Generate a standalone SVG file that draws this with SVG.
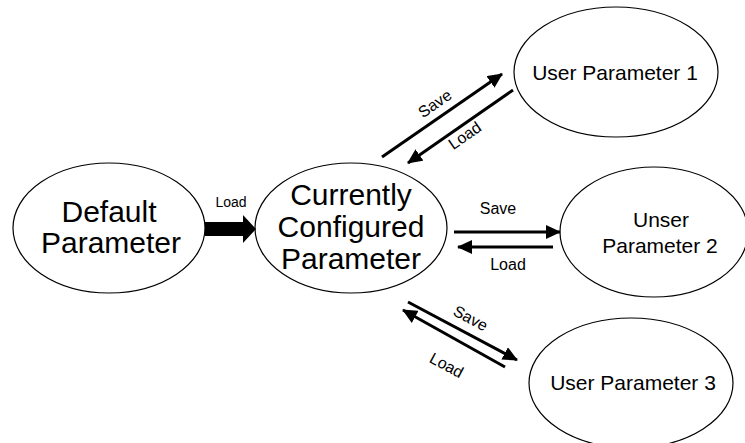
<svg xmlns="http://www.w3.org/2000/svg" width="745" height="443" viewBox="0 0 745 443">
<defs>
<style>
.node{fill:#fff;stroke:#000;stroke-width:1.2}
.big{font-family:"Liberation Sans",Arial,sans-serif;font-size:30px;text-anchor:middle;fill:#000}
.mid{font-family:"Liberation Sans",Arial,sans-serif;font-size:21px;text-anchor:middle;fill:#000}
.lbl{font-family:"Liberation Sans",Arial,sans-serif;font-size:16px;text-anchor:middle;fill:#000}
.edge{stroke:#000;stroke-width:3;fill:none;marker-end:url(#ah)}
</style>
<marker id="ah" markerUnits="userSpaceOnUse" markerWidth="16" markerHeight="14" refX="14" refY="7" orient="auto">
<path d="M0,0 L15,7 L0,14 Z" fill="#000"/>
</marker>
</defs>
<rect width="745" height="443" fill="#fff"/>
<g id="default">
<ellipse class="node" cx="109" cy="228" rx="96" ry="65"/>
<text class="big" x="109" y="222">Default</text>
<text class="big" x="111" y="253">Parameter</text>
</g>
<g id="current">
<ellipse class="node" cx="351" cy="228" rx="96" ry="65"/>
<text class="big" x="351" y="205">Currently</text>
<text class="big" x="351" y="237">Configured</text>
<text class="big" x="351" y="269">Parameter</text>
</g>
<g id="user1">
<ellipse class="node" cx="616" cy="72" rx="102" ry="65"/>
<text class="mid" x="615" y="80">User Parameter 1</text>
</g>
<g id="user2">
<ellipse class="node" cx="654" cy="232" rx="94" ry="65"/>
<text class="mid" x="661" y="227">Unser</text>
<text class="mid" x="660" y="253">Parameter 2</text>
</g>
<g id="user3">
<ellipse class="node" cx="631" cy="383" rx="102" ry="65"/>
<text class="mid" x="633" y="390">User Parameter 3</text>
</g>
<g id="connectors">
<polygon points="205,222 243,222 243,215 256,229 243,243 243,236 205,236" fill="#000"/>
<text class="lbl" x="231" y="207" style="font-size:14px">Load</text>
<line class="edge" x1="382" y1="157" x2="502" y2="74"/>
<line class="edge" x1="513" y1="90" x2="408" y2="163"/>
<text class="lbl" transform="translate(438,108) rotate(-34.7)">Save</text>
<text class="lbl" transform="translate(468,140) rotate(-34.7)">Load</text>
<line class="edge" x1="454" y1="232" x2="560" y2="232"/>
<line class="edge" x1="553" y1="247" x2="458" y2="247"/>
<text class="lbl" x="498" y="214">Save</text>
<text class="lbl" x="508" y="270">Load</text>
<line class="edge" x1="408" y1="302" x2="517" y2="360"/>
<line class="edge" x1="505" y1="367" x2="403" y2="310"/>
<text class="lbl" transform="translate(468,323) rotate(28)">Save</text>
<text class="lbl" transform="translate(444,370) rotate(28)">Load</text>
</g>
</svg>
